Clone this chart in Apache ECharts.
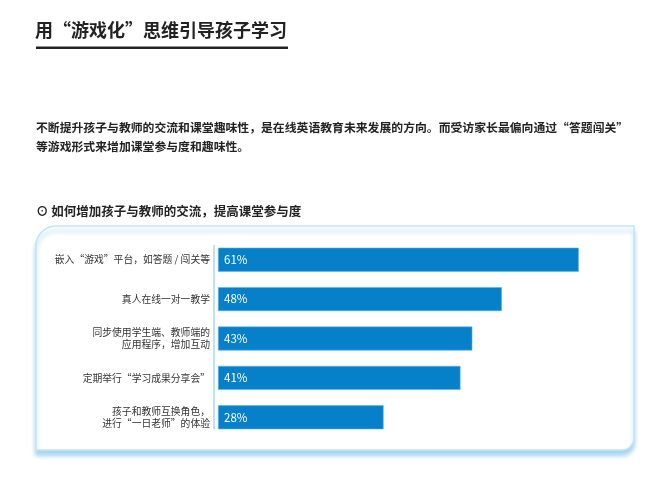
<!DOCTYPE html>
<html>
<head>
<meta charset="utf-8">
<script src="https://cdn.jsdelivr.net/npm/echarts@6/dist/echarts.min.js"></script>
<style>
html, body { margin: 0; padding: 0; background: #fff; }
#main { width: 670px; height: 483px; }
</style>
</head>
<body>
<div id="main"></div>
<script>
// 数据
var categories = [
	'嵌入“游戏”平台，如答题 / 闯关等',
	'真人在线一对一教学',
	'同步使用学生端、教师端的\n应用程序，增加互动',
	'定期举行“学习成果分享会”',
	'孩子和教师互换角色，\n进行“一日老师”的体验'
];
var values = [61, 48, 43, 41, 28];

var titleText = '用“游戏化”思维引导孩子学习';
var introText = '不断提升孩子与教师的交流和课堂趣味性，是在线英语教育未来发展的方向。而受访家长最偏向通过“答题闯关”\n等游戏形式来增加课堂参与度和趣味性。';
var subText = '⊙ 如何增加孩子与教师的交流，提高课堂参与度';

var FONT = '"Noto Sans CJK SC", sans-serif';

var myChart = echarts.init(document.getElementById('main'));

myChart.setOption({
	backgroundColor: '#fff',
	animation: false,
	title: {
		text: titleText,
		left: 35,
		top: 21,
		padding: 0,
		textStyle: {
			fontFamily: FONT,
			fontSize: 18,
			fontWeight: 'bold',
			color: '#222'
		}
	},
	graphic: [
		// 标题下划线
		{ type: 'rect', z: 1, shape: { x: 36, y: 46.5, width: 252, height: 2.5 }, style: { fill: '#222' } },
		// 说明文字
		{
			type: 'text', z: 1, x: 36, y: 118,
			style: {
				text: introText, fontFamily: FONT, fontSize: 11.85, fontWeight: 'bold',
				fill: '#222', lineHeight: 19
			}
		},
		// 小标题
		{
			type: 'text', z: 1, x: 36, y: 203,
			style: {
				text: subText, fontFamily: FONT, fontSize: 12.5, fontWeight: 'bold',
				fill: '#222', lineHeight: 16
			}
		},
		// 面板
		{
			type: 'rect', z: 0,
			shape: { x: 36, y: 226, width: 598, height: 224, r: [20, 0, 12, 0] },
			style: {
				fill: '#fff', stroke: '#c3e4f6', lineWidth: 1.5,
				shadowBlur: 4, shadowOffsetY: 5, shadowColor: 'rgba(110,185,230,0.6)'
			}
		},
		// 纵轴线
		{ type: 'line', z: 1, shape: { x1: 214, y1: 245, x2: 214, y2: 429 }, style: { stroke: '#a9d7f0', lineWidth: 1.5 } }
	],
	grid: {
		left: 218,
		right: 38,
		top: 240,
		bottom: 46
	},
	xAxis: {
		type: 'value',
		min: 0,
		max: 70,
		show: false
	},
	yAxis: {
		type: 'category',
		inverse: true,
		data: categories,
		axisLine: { show: false },
		axisTick: { show: false },
		splitLine: { show: false },
		axisLabel: {
			margin: 8,
			fontFamily: FONT,
			fontSize: 9.8,
			lineHeight: 12,
			color: '#333'
		}
	},
	series: [{
		name: '比例',
		type: 'bar',
		z: 3,
		barWidth: 24,
		data: values,
		itemStyle: {
			color: '#0680c8',
			borderColor: '#5fb3e3',
			borderWidth: 0.6
		},
		label: {
			show: true,
			position: 'insideLeft',
			distance: 6,
			formatter: '{c}%',
			fontFamily: FONT,
			fontSize: 11.5,
			color: '#fff'
		}
	}]
});
</script>
</body>
</html>
